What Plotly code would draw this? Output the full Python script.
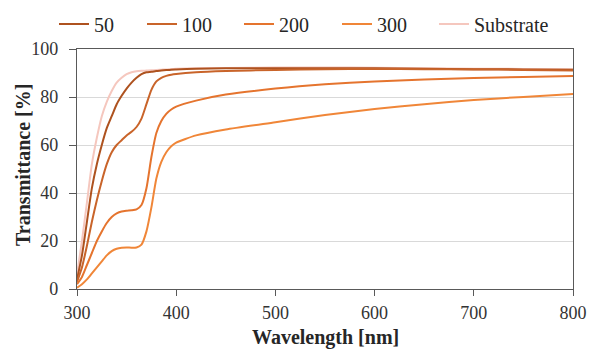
import plotly.graph_objects as go

wavelength = [300, 305, 310, 315, 320, 325, 330, 335, 340, 345, 350, 355, 360, 365, 370,
              375, 380, 385, 390, 395, 400, 420, 450, 500, 550, 600, 650, 700, 750, 800]

t50 = [4, 14, 28, 42, 52, 60, 67, 72, 77, 80.5, 83.5, 86, 88, 89.5, 90.3,
       90.5, 90.8, 91, 91.2, 91.4, 91.5, 91.8, 92, 92, 92, 92, 91.8, 91.6, 91.5, 91.4]
t100 = [3, 9, 18, 28, 37, 45, 52, 57, 60, 62, 64, 65.5, 67.5, 71, 77,
        83, 86.5, 88, 88.8, 89.3, 89.6, 90.3, 90.8, 91.3, 91.6, 91.7, 91.6, 91.5, 91.3, 91.0]
t200 = [2, 5, 10, 15, 20, 24, 27.5, 30, 31.5, 32.3, 32.6, 32.8, 33.2, 35, 42,
        55, 65, 70, 73, 74.8, 76, 78.5, 81, 83.5, 85.3, 86.5, 87.3, 87.9, 88.3, 88.7]
t300 = [0.5, 2, 4, 6.5, 9, 11.5, 14, 15.8, 16.8, 17.2, 17.3, 17.2, 17.3, 18.5, 24,
        34, 46, 53, 57, 59.5, 61, 64, 66.5, 69.5, 72.5, 75, 77, 78.8, 80, 81.3]
tsub = [6, 20, 36, 52, 63, 72, 78, 82.5, 86, 88, 89.5, 90.3, 90.7, 90.9, 91,
        91.1, 91.3, 91.4, 91.5, 91.7, 91.8, 92, 92.1, 92.3, 92.3, 92.2, 92, 91.8, 91.7, 91.6]

series = [("50", t50, "#AE521F"), ("100", t100, "#C9642A"), ("200", t200, "#E5742E"),
          ("300", t300, "#F08638"), ("Substrate", tsub, "#F5C7BE")]
legend_x_px = [54, 142, 239, 337, 434]

font = "Liberation Serif"
fig = go.Figure()
order = [4, 0, 1, 2, 3]
legend_ids = ["legend", "legend2", "legend3", "legend4", "legend5"]
for i in order:
    name, vals, col = series[i]
    fig.add_trace(go.Scatter(x=wavelength, y=vals, name=name, mode="lines",
                             line=dict(color=col, width=2, shape="spline", smoothing=0.6),
                             legend=legend_ids[i]))

legend_layout = {}
for i, lid in enumerate(legend_ids):
    legend_layout[lid] = dict(orientation="h", xref="container", yref="container",
                              x=legend_x_px[i] / 596, xanchor="left", y=1 - 24 / 349, yanchor="middle",
                              font=dict(size=20, family=font, color="#262626"),
                              bgcolor="rgba(0,0,0,0)", borderwidth=0)

tickfont = dict(family=font, size=18, color="#333333")
fig.update_layout(
    width=596, height=349,
    margin=dict(l=77, r=23, t=49, b=60, autoexpand=False),
    paper_bgcolor="white", plot_bgcolor="white",
    font=dict(family=font, size=18, color="#262626"),
    showlegend=True,
    xaxis=dict(range=[300, 800], tickvals=[300, 400, 500, 600, 700, 800],
               showgrid=False, showline=True, linecolor="#595959", linewidth=1.3, mirror=True,
               ticks="outside", ticklen=6, tickcolor="#595959", tickfont=tickfont,
               ticklabelstandoff=1, zeroline=False),
    yaxis=dict(range=[0, 100], tickvals=[0, 20, 40, 60, 80, 100],
               showgrid=True, gridcolor="#D9D9D9", gridwidth=1.3,
               showline=True, linecolor="#595959", linewidth=1.3, mirror=True,
               ticks="outside", ticklen=7, tickcolor="#595959", tickfont=tickfont,
               ticklabelstandoff=7, zeroline=False),
    annotations=[
        dict(text="<b>Wavelength [nm]</b>", xref="paper", yref="paper",
             x=0.5, y=-(337 - 289) / 240, xanchor="center", yanchor="middle",
             showarrow=False, font=dict(family=font, size=20, color="#262626")),
        dict(text="<b>Transmittance [%]</b>", xref="paper", yref="paper",
             x=-(77 - 23) / 496, y=0.5 + (169 - 165) / 240, xanchor="center", yanchor="middle",
             textangle=-90, showarrow=False, font=dict(family=font, size=20, color="#262626")),
    ],
    **legend_layout,
)

fig.write_html("out.html", config={"displayModeBar": False},
               post_script="document.body.style.margin='0';document.body.style.overflow='hidden';")
